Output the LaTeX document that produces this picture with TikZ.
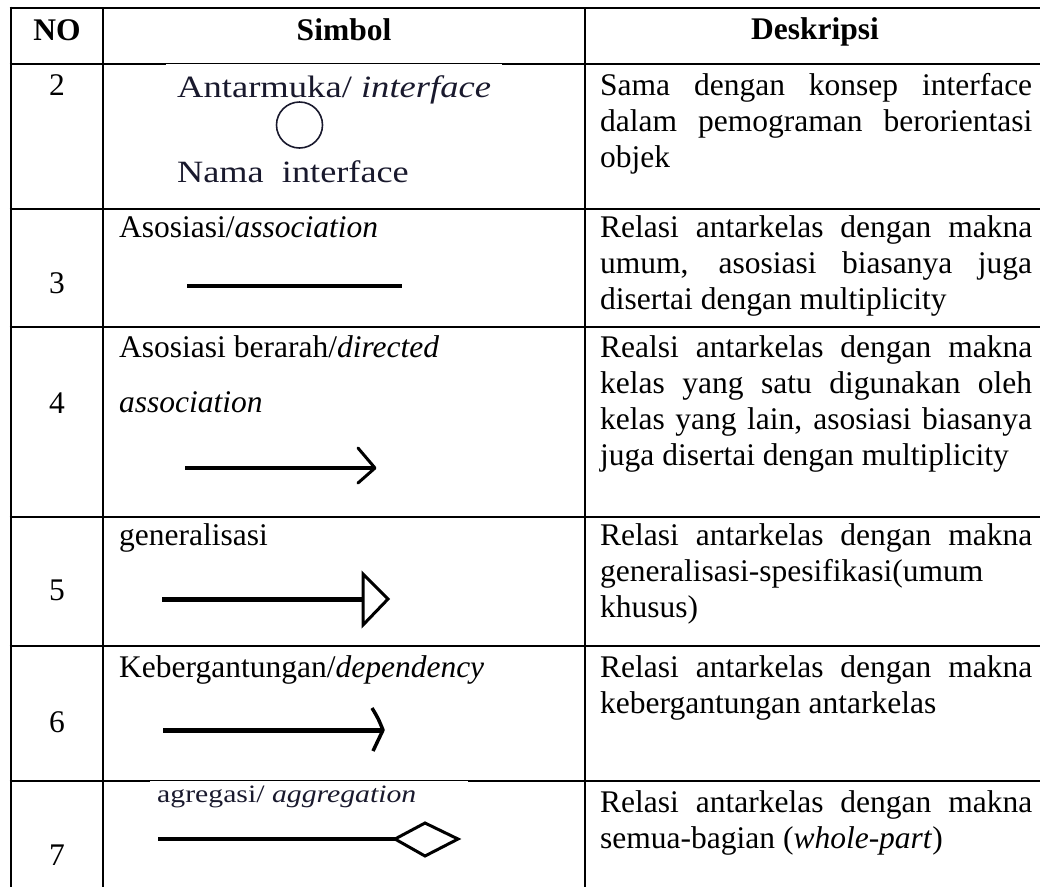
\documentclass[tikz,border=0pt]{standalone}
\usepackage{fontspec}
\setmainfont{Liberation Serif}
\newcommand\jline[1]{{\spaceskip=0pt\xspaceskip=0pt\makebox[432pt][s]{#1}}}
\definecolor{imgink}{RGB}{25,25,45}
\begin{document}
\begin{tikzpicture}[x=1pt,y=-1pt,
  grid/.style={line width=2.8pt, black},
  body/.style={font=\fontsize{31.5pt}{36.2pt}\selectfont, inner sep=0pt, anchor=base west},
  desc/.style={body, text width=432pt, align=left},
  hdr/.style={font=\fontsize{31.5pt}{36.2pt}\selectfont\bfseries, inner sep=0pt, anchor=base},
  num/.style={font=\fontsize{31.5pt}{36.2pt}\selectfont, inner sep=0pt, anchor=base},
  imgtxt/.style={inner sep=0pt, anchor=base west, text=imgink},
  symhead/.style={line width=3pt, black, line join=round, line cap=round}]
\useasboundingbox (0,0) rectangle (1040,887);
% grid
\foreach \yy in {8,64,209,327,517,646,781}
  \draw[grid] (9.6,\yy) -- (1040,\yy);
\draw[grid] (11,6.6) -- (11,887);
\draw[grid] (103,8) -- (103,887);
\draw[grid] (585,8) -- (585,887);
% image overlays thinning the line
\fill[white] (166,64.2) rectangle (502,65.8);
\fill[white] (150,781.2) rectangle (468,782.8);
% header
\node[hdr] (hno) at (57,40) {NO};
\node[hdr] (hsym) at (344,40) {Simbol};
\node[hdr] (hdesc) at (815,39) {Deskripsi};
% numbers
\node[num] (n2) at (57,95) {2};
\node[num] (n3) at (57,293) {3};
\node[num] (n4) at (57,413) {4};
\node[num] (n5) at (57,600) {5};
\node[num] (n6) at (57,732) {6};
\node[num] (n7) at (57,865) {7};
% row 2 symbol
\node[imgtxt, font=\fontsize{31pt}{36pt}\selectfont] (s2a) at (177,97) {\scalebox{1.18}[1]{Antarmuka/ \textit{interface}}};
\node[draw=imgink, line width=1.6pt, circle, minimum size=46pt, inner sep=0pt] (s2c) at (299.5,125) {};
\node[imgtxt, font=\fontsize{31pt}{36pt}\selectfont] (s2b) at (177,182) {\scalebox{1.17}[1]{Nama\ \ interface}};
% row 3 symbol
\node[body] (s3) at (119,237) {Asosiasi/\textit{association}};
\coordinate (a3s) at (187,286); \coordinate (a3e) at (402,286);
\draw[line width=4.5pt] (a3s) -- (a3e);
% row 4 symbol
\node[body] (s4a) at (119,357) {Asosiasi berarah/\textit{directed}};
\node[body] (s4b) at (119,412) {\textit{association}};
\coordinate (a4s) at (185,468); \coordinate (a4e) at (373,468);
\draw[line width=3.6pt] (a4s) -- (a4e);
\draw[symhead] (358,448) -- (375,468) -- (358,483);
% row 5 symbol
\node[body] (s5) at (119,545) {generalisasi};
\coordinate (a5s) at (162,599); \coordinate (a5e) at (363,599);
\draw[line width=5pt] (a5s) -- (a5e);
\draw[line width=3pt, fill=white, line join=miter] (363,574) -- (388,599) -- (363,625) -- cycle;
% row 6 symbol
\node[body] (s6) at (119,677) {Kebergantungan/\textit{dependency}};
\coordinate (a6s) at (163,730); \coordinate (a6e) at (381,730);
\draw[line width=5pt] (a6s) -- (a6e);
\draw[line width=3.5pt, line join=round] (372,708) .. controls (378,718) .. (383,730) .. controls (378,740) .. (373,751);
% row 7 symbol
\node[imgtxt, font=\fontsize{25pt}{30pt}\selectfont] (s7) at (157,802) {\scalebox{1.19}[1]{agregasi/ \textit{aggregation}}};
\coordinate (a7s) at (158,839); \coordinate (a7e) at (395,839);
\draw[line width=4pt] (a7s) -- (a7e);
\draw[line width=3pt, line join=miter] (395,839) -- (425,823) -- (458,839) -- (425,856) -- cycle;
% descriptions
\node[desc] (d2) at (600,95) {\spaceskip=0pt\xspaceskip=0pt\jline{Sama dengan konsep interface}\\\jline{dalam pemograman berorientasi}\\objek};
\node[desc] (d3) at (600,237) {\spaceskip=0pt\xspaceskip=0pt\jline{Relasi antarkelas dengan makna}\\\jline{umum, asosiasi biasanya juga}\\disertai dengan multiplicity};
\node[desc] (d4) at (600,357) {\spaceskip=0pt\xspaceskip=0pt\jline{Realsi antarkelas dengan makna}\\\jline{kelas yang satu digunakan oleh}\\\jline{kelas yang lain, asosiasi biasanya}\\juga disertai dengan multiplicity};
\node[desc] (d5) at (600,545) {\spaceskip=0pt\xspaceskip=0pt\jline{Relasi antarkelas dengan makna}\\generalisasi-spesifikasi(umum\\khusus)};
\node[desc] (d6) at (600,677) {\spaceskip=0pt\xspaceskip=0pt\jline{Relasi antarkelas dengan makna}\\kebergantungan antarkelas};
\node[desc] (d7) at (600,812) {\spaceskip=0pt\xspaceskip=0pt\jline{Relasi antarkelas dengan makna}\\semua-bagian (\textit{whole-part})};
\end{tikzpicture}
\end{document}
